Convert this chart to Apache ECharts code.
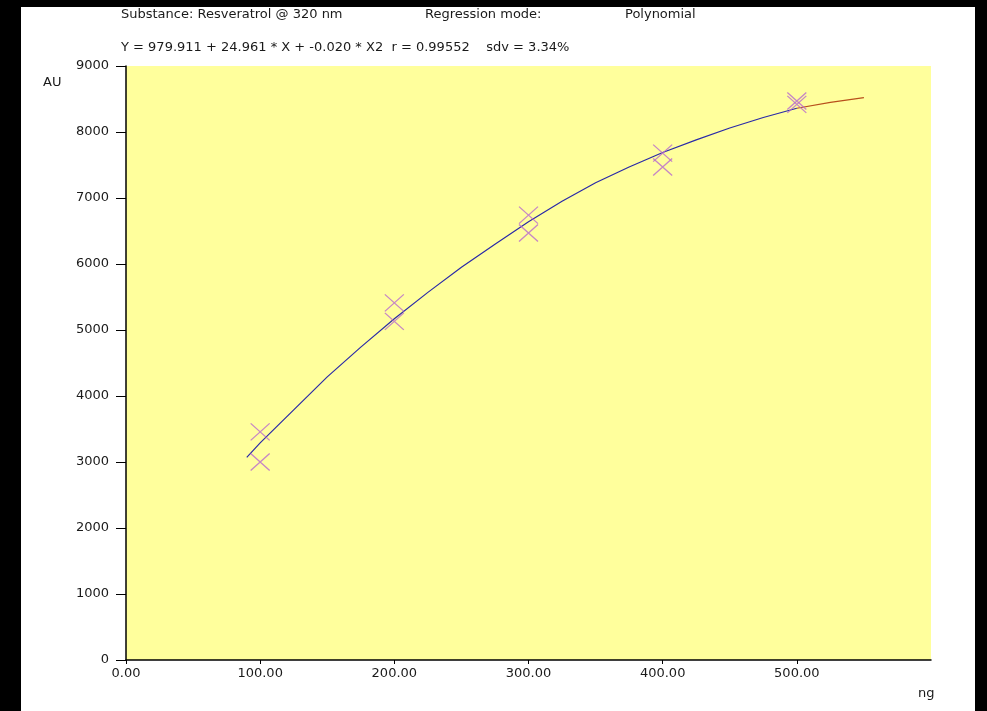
<!DOCTYPE html>
<html>
<head>
<meta charset="utf-8">
<script src="https://cdn.jsdelivr.net/npm/echarts@6/dist/echarts.min.js"></script>
<style>
  html, body { margin: 0; padding: 0; background: #000; }
  #chart { width: 987px; height: 711px; }
</style>
</head>
<body>
<div id="chart"></div>
<script>
// Calibration standards: applied amount (ng) and measured peak area (AU)
const stdAmounts = [100, 100, 200, 200, 300, 300, 400, 400, 500, 500];
const stdAreas   = [3455, 3000, 5410, 5130, 6740, 6470, 7680, 7470, 8470, 8420];

// Fitted calibration curve within the standard range
const fitAmounts = [90, 100, 125, 150, 175, 200, 225, 250, 275, 300, 325, 350, 375, 400, 425, 450, 475, 500];
const fitAreas   = [3070, 3290, 3790, 4290, 4740, 5170, 5570, 5950, 6300, 6640, 6950, 7230, 7470, 7690, 7880, 8060, 8220, 8360];

// Extrapolated part of the curve beyond the highest standard
const extAmounts = [500, 525, 550];
const extAreas   = [8360, 8450, 8520];

// Axis ticks
const xTickValues = [0, 100, 200, 300, 400, 500];

// Header texts
const headerSubstance = 'Substance: Resveratrol @ 320 nm';
const headerModeLabel = 'Regression mode:';
const headerModeValue = 'Polynomial';
const headerEquation  = 'Y = 979.911 + 24.961 * X + -0.020 * X2  r = 0.99552    sdv = 3.34%';

const FONT = '"DejaVu Sans", Verdana, sans-serif';
const FS = 13;

const pair = (xs, ys) => xs.map((x, i) => [x, ys[i]]);

const chart = echarts.init(document.getElementById('chart'));

const txt = (text, x, y) => ({
  type: 'text', left: x, top: y,
  style: { text: text, fill: '#1a1a1a', font: FS + 'px ' + FONT, textAlign: 'left' },
  z: 10
});

chart.setOption({
  backgroundColor: '#000',
  animation: false,
  graphic: [
    { type: 'rect', shape: { x: 21, y: 7, width: 954, height: 704 }, style: { fill: '#fff' }, z: -10, silent: true },
    txt(headerSubstance, 121, 8),
    txt(headerModeLabel, 425, 8),
    txt(headerModeValue, 625, 8),
    txt(headerEquation, 121, 41),
    txt('AU', 43, 76),
    txt('ng', 918, 687)
  ],
  grid: {
    left: 126, right: 56, top: 66, bottom: 51,
    show: true, backgroundColor: '#ffff9c', borderWidth: 0
  },
  xAxis: {
    type: 'value', min: 0, max: 600, interval: 100,
    axisLine: { show: true, lineStyle: { color: '#000', width: 1.5 } },
    axisTick: { show: true, length: 4, customValues: xTickValues, lineStyle: { color: '#000' } },
    axisLabel: {
      customValues: xTickValues, margin: 7,
      color: '#1a1a1a', fontSize: FS, fontFamily: FONT,
      formatter: v => v.toFixed(2)
    },
    splitLine: { show: false }
  },
  yAxis: {
    type: 'value', min: 0, max: 9000, interval: 1000,
    axisLine: { show: true, lineStyle: { color: '#000', width: 1.5 } },
    axisTick: { show: true, length: 10, lineStyle: { color: '#000' } },
    axisLabel: { margin: 17, color: '#1a1a1a', fontSize: FS, fontFamily: FONT, formatter: v => String(v) },
    splitLine: { show: false }
  },
  series: [
    {
      type: 'line', data: pair(fitAmounts, fitAreas),
      smooth: false, showSymbol: false,
      lineStyle: { color: '#2a2aa8', width: 1.2 }, z: 2
    },
    {
      type: 'line', data: pair(extAmounts, extAreas),
      smooth: false, showSymbol: false,
      lineStyle: { color: '#b8501c', width: 1.2 }, z: 2
    },
    {
      type: 'scatter', data: pair(stdAmounts, stdAreas),
      symbol: 'path://M0,0L20,18M20,0L0,18', symbolSize: [19, 17],
      itemStyle: { color: 'rgba(0,0,0,0)', borderColor: '#b868d0', borderWidth: 1.2 },
      z: 3
    }
  ]
});
</script>
</body>
</html>
